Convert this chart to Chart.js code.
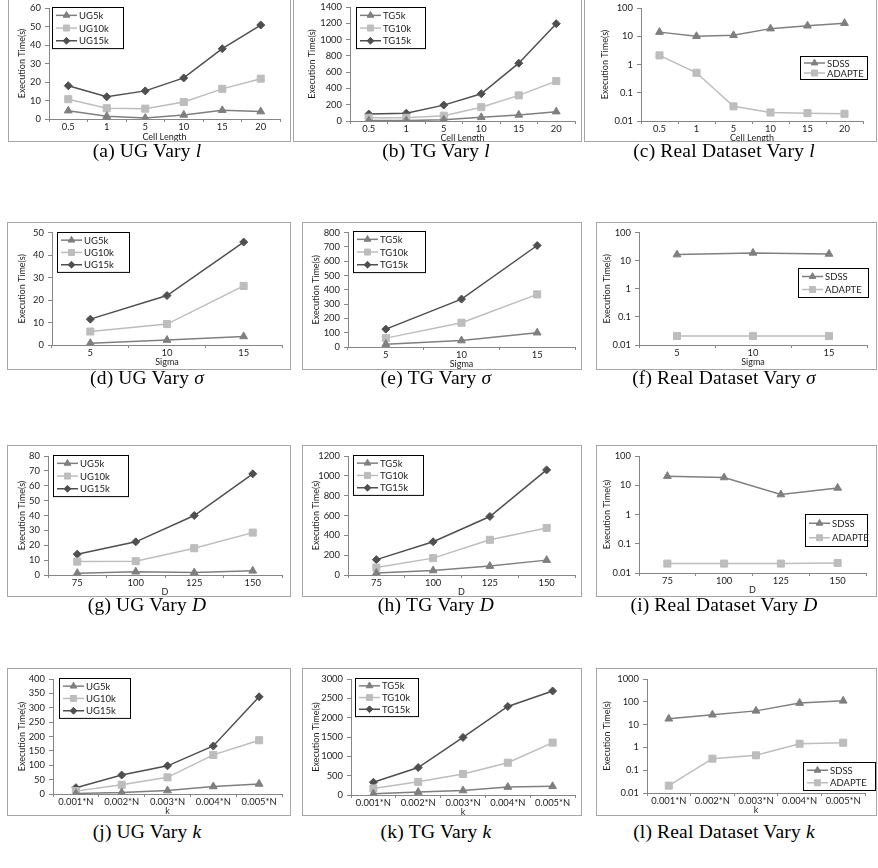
<!DOCTYPE html>
<html>
<head>
<meta charset="utf-8">
<script src="https://cdn.jsdelivr.net/npm/chart.js@4/dist/chart.umd.min.js"></script>
<style>
  body { margin: 0; background: #fff; width: 878px; height: 868px; position: relative; overflow: hidden; }
  .box { position: absolute; border: 1px solid #a6a6a6; box-sizing: border-box; background: #fff; }
  .box canvas { position: absolute; left: 0; top: 0; }
  .cap { position: absolute; font-family: "Liberation Serif", serif; font-size: 19.5px; letter-spacing: 0.2px; white-space: nowrap; transform: translate(-50%, -50%); color: #000; }
  .cap b { font-weight: normal; margin-right: 0.25em; }
</style>
</head>
<body>
<script>
// category labels
const cellLength = ["0.5", "1", "5", "10", "15", "20"];
const sigma = ["5", "10", "15"];
const dims = ["75", "100", "125", "150"];
const kVals = ["0.001*N", "0.002*N", "0.003*N", "0.004*N", "0.005*N"];

const ugNames = ["UG5k", "UG10k", "UG15k"];
const tgNames = ["TG5k", "TG10k", "TG15k"];
const realNames = ["SDSS", "ADAPTE"];

// vary cell length l
const ugL5 = [4.5, 1.5, 0.5, 2.2, 4.7, 4];
const ugL10 = [10.7, 5.8, 5.6, 9.2, 16.3, 21.8];
const ugL15 = [18, 12, 15.2, 22.2, 38, 50.8];
const tgL5 = [5, 5, 15, 45, 75, 115];
const tgL10 = [40, 40, 65, 170, 315, 490];
const tgL15 = [85, 95, 195, 335, 710, 1195];
const sdssL = [14, 10, 10.8, 18.6, 23.5, 29];
const adapteL = [2.1, 0.51, 0.033, 0.02, 0.019, 0.018];

// vary sigma
const ugS5 = [0.8, 2.2, 3.8];
const ugS10 = [6, 9.3, 26.3];
const ugS15 = [11.5, 22, 45.8];
const tgS5 = [20, 45, 100];
const tgS10 = [62, 170, 368];
const tgS15 = [125, 335, 710];
const sdssS = [16.5, 19, 17.4];
const adapteS = [0.021, 0.021, 0.021];

// vary D
const ugD5 = [1.2, 2.2, 1.7, 2.8];
const ugD10 = [9, 9.3, 18, 28.5];
const ugD15 = [14, 22.3, 40, 68];
const tgD5 = [20, 45, 90, 150];
const tgD10 = [75, 170, 355, 475];
const tgD15 = [155, 335, 590, 1060];
const sdssD = [20.5, 18.4, 4.8, 8.1];
const adapteD = [0.021, 0.021, 0.021, 0.022];

// vary k
const ugK5 = [2, 5, 12, 26, 35];
const ugK10 = [10, 32, 58, 136, 187];
const ugK15 = [22, 66, 98, 167, 338];
const tgK5 = [30, 75, 115, 205, 225];
const tgK10 = [170, 340, 545, 835, 1355];
const tgK15 = [330, 710, 1490, 2290, 2690];
const sdssK = [18, 27, 40, 88, 110];
const adapteK = [0.021, 0.32, 0.45, 1.45, 1.6];

const looks = [
  { color: "#7f7f7f", point: "triangle", r: 4.5 },
  { color: "#bdbdbd", point: "rect", r: 5 },
  { color: "#4f4f4f", point: "rectRot", r: 4 },
];
const realLooks = [looks[0], looks[1]];
const FONT = "Lato";

const boxLegend = {
  id: "boxLegend",
  afterDatasetsDraw(chart, args, opts) {
    if (!opts || opts.x === undefined) return;
    const ctx = chart.ctx;
    const sets = chart.data.datasets;
    const h = opts.rowH * sets.length + 3;
    ctx.save();
    ctx.fillStyle = "#fff";
    ctx.fillRect(opts.x, opts.y, opts.w, h);
    ctx.strokeStyle = "#000";
    ctx.lineWidth = 1;
    ctx.strokeRect(opts.x + 0.5, opts.y + 0.5, opts.w, h);
    ctx.font = "9.5px " + FONT;
    ctx.textBaseline = "middle";
    sets.forEach((ds, i) => {
      const cy = opts.y + 2 + opts.rowH * (i + 0.5);
      ctx.strokeStyle = ds.borderColor;
      ctx.lineWidth = 1.5;
      ctx.beginPath();
      ctx.moveTo(opts.x + 4, cy);
      ctx.lineTo(opts.x + 25, cy);
      ctx.stroke();
      ctx.fillStyle = ds.backgroundColor;
      ctx.lineWidth = 1;
      Chart.helpers.drawPoint(ctx, { pointStyle: ds.pointStyle, radius: ds.pointRadius * 0.85, rotation: 0, borderWidth: 1 }, opts.x + 14.5, cy);
      ctx.fillStyle = "#222";
      ctx.fillText(ds.label, opts.x + 27, cy + 0.5);
    });
    ctx.restore();
  },
};

const panels = [
  { box: [8, -4, 283, 146], area: [49, 8, 280, 119], yTitleX: 22, xGap: 18, legend: [52, 7, 71, 12.7],
    labels: cellLength, names: ugNames, series: [ugL5, ugL10, ugL15], max: 60, step: 10, xTitle: "Cell Length",
    cap: "<b>(a)</b>UG Vary <i>l</i>", capX: 147, capY: 151 },
  { box: [293, -4, 289, 146], area: [350, 7, 575, 121], yTitleX: 312, xGap: 17, legend: [356, 7, 69, 12.7],
    labels: cellLength, names: tgNames, series: [tgL5, tgL10, tgL15], max: 1400, step: 200, xTitle: "Cell Length",
    cap: "<b>(b)</b>TG Vary <i>l</i>", capX: 436, capY: 151 },
  { box: [584, -4, 293, 146], area: [641, 8, 863, 121], yTitleX: 605, xGap: 17, legend: [800, 56, 67, 10],
    labels: cellLength, names: realNames, series: [sdssL, adapteL], log: true, max: 100, xTitle: "Cell Length",
    cap: "<b>(c)</b>Real Dataset Vary <i>l</i>", capX: 724, capY: 151 },

  { box: [7, 222, 284, 148], area: [52, 232, 282, 345], yTitleX: 22, xGap: 17.5, legend: [57, 232, 72, 12.3],
    labels: sigma, names: ugNames, series: [ugS5, ugS10, ugS15], max: 50, step: 10, xTitle: "Sigma",
    cap: "<b>(d)</b>UG Vary <i>σ</i>", capX: 147, capY: 378 },
  { box: [302, 222, 280, 148], area: [348, 232, 576, 347], yTitleX: 316, xGap: 17, legend: [353, 231, 72, 12.7],
    labels: sigma, names: tgNames, series: [tgS5, tgS10, tgS15], max: 800, step: 100, xTitle: "Sigma",
    cap: "<b>(e)</b>TG Vary <i>σ</i>", capX: 436, capY: 378 },
  { box: [596, 222, 281, 148], area: [639, 232, 867, 345], yTitleX: 607, xGap: 17.5, legend: [798, 268, 70, 13],
    labels: sigma, names: realNames, series: [sdssS, adapteS], log: true, max: 100, xTitle: "Sigma",
    cap: "<b>(f)</b>Real Dataset Vary <i>σ</i>", capX: 724, capY: 378 },

  { box: [7, 445, 284, 152], area: [48, 456, 282, 575], yTitleX: 22, xGap: 17.5, legend: [53, 455, 75, 12.7],
    labels: dims, names: ugNames, series: [ugD5, ugD10, ugD15], max: 80, step: 10, xTitle: "D",
    cap: "<b>(g)</b>UG Vary <i>D</i>", capX: 147, capY: 605 },
  { box: [302, 445, 280, 152], area: [348, 456, 576, 575], yTitleX: 316, xGap: 17.5, legend: [353, 455, 70, 12.3],
    labels: dims, names: tgNames, series: [tgD5, tgD10, tgD15], max: 1200, step: 200, xTitle: "D",
    cap: "<b>(h)</b>TG Vary <i>D</i>", capX: 436, capY: 605 },
  { box: [596, 445, 281, 152], area: [639, 456, 866, 573], yTitleX: 607, xGap: 17.5, legend: [805, 514, 62, 14.5],
    labels: dims, names: realNames, series: [sdssD, adapteD], log: true, max: 100, xTitle: "D",
    cap: "<b>(i)</b>Real Dataset Vary <i>D</i>", capX: 724, capY: 605 },

  { box: [7, 668, 284, 148], area: [53, 679, 282, 794], yTitleX: 22, xGap: 17.5, legend: [59, 678, 71, 12.3],
    labels: kVals, names: ugNames, series: [ugK5, ugK10, ugK15], max: 400, step: 50, xTitle: "k",
    cap: "<b>(j)</b>UG Vary <i>k</i>", capX: 147, capY: 832 },
  { box: [302, 668, 280, 148], area: [351, 679, 576, 795], yTitleX: 316, xGap: 17, legend: [355, 678, 63, 11.7],
    labels: kVals, names: tgNames, series: [tgK5, tgK10, tgK15], max: 3000, step: 500, xTitle: "k",
    cap: "<b>(k)</b>TG Vary <i>k</i>", capX: 436, capY: 832 },
  { box: [596, 668, 281, 148], area: [647, 679, 865, 793], yTitleX: 607, xGap: 17.5, legend: [803, 762, 72, 12.5],
    labels: kVals, names: realNames, series: [sdssK, adapteK], log: true, max: 1000, xTitle: "k",
    cap: "<b>(l)</b>Real Dataset Vary <i>k</i>", capX: 724, capY: 832 },
];

function makePanel(p) {
  const [bx, by, bw, bh] = p.box;
  const ox = bx + 1, oy = by + 1;
  const cw = bw - 2, ch = bh - 2;
  const [al, at, ar, ab] = p.area;

  const div = document.createElement("div");
  div.className = "box";
  Object.assign(div.style, { left: bx + "px", top: by + "px", width: bw + "px", height: bh + "px" });
  const canvas = document.createElement("canvas");
  canvas.width = cw;
  canvas.height = ch;
  div.appendChild(canvas);
  document.body.appendChild(div);

  const cap = document.createElement("div");
  cap.className = "cap";
  cap.innerHTML = p.cap;
  cap.style.left = p.capX + "px";
  cap.style.top = p.capY + "px";
  document.body.appendChild(cap);

  const titleSize = 9;
  const tickSize = 9.4;
  const lh = titleSize * 1.2;
  const yW = al - ox;
  const xH = oy + ch - ab;
  const xTitleY = ab + p.xGap;
  const lk = p.log ? realLooks : looks;

  const yScale = p.log
    ? {
        type: "logarithmic", min: 0.01, max: p.max,
        afterBuildTicks: (s) => { s.ticks = s.ticks.filter((t) => Math.abs(Math.log10(t.value) - Math.round(Math.log10(t.value))) < 1e-6); },
        ticks: { callback: (v) => String(+v.toPrecision(2)) },
      }
    : { type: "linear", min: 0, max: p.max, ticks: { stepSize: p.step, callback: (v) => String(v) } };
  Object.assign(yScale, {
    afterFit: (s) => { s.width = yW; },
    border: { color: "#868686" },
    grid: { drawOnChartArea: false, tickLength: 4, color: "#868686" },
    title: { display: true, text: "Execution Time(s)", color: "#222", font: { family: FONT, size: titleSize }, padding: { top: p.yTitleX - ox - lh / 2, bottom: 0 } },
  });
  Object.assign(yScale.ticks, { color: "#222", font: { family: FONT, size: tickSize }, padding: 4 });

  new Chart(canvas, {
    type: "line",
    data: {
      labels: p.labels,
      datasets: p.series.map((vals, i) => ({
        label: p.names[i],
        data: vals,
        borderColor: lk[i].color,
        backgroundColor: lk[i].color,
        pointStyle: lk[i].point,
        pointRadius: lk[i].r,
        pointBorderWidth: 1,
        borderWidth: 1.5,
        tension: 0,
      })),
    },
    options: {
      responsive: false,
      animation: false,
      devicePixelRatio: 1,
      layout: { padding: { left: 0, top: at - oy, right: ox + cw - ar, bottom: 0 } },
      scales: {
        x: {
          type: "category",
          offset: true,
          afterFit: (s) => { s.height = xH; },
          border: { color: "#868686" },
          grid: { offset: true, drawOnChartArea: false, tickLength: 3, color: "#868686" },
          ticks: { color: "#222", font: { family: FONT, size: tickSize }, maxRotation: 0, autoSkip: false, padding: -1 },
          title: { display: true, text: p.xTitle, color: "#222", font: { family: FONT, size: titleSize }, padding: { top: 0, bottom: oy + ch - xTitleY - lh / 2 } },
        },
        y: yScale,
      },
      plugins: {
        legend: { display: false },
        tooltip: { enabled: false },
        boxLegend: { x: p.legend[0] - ox, y: p.legend[1] - oy, w: p.legend[2], rowH: p.legend[3] },
      },
    },
    plugins: [boxLegend],
  });
}

panels.forEach(makePanel);
</script>
</body>
</html>
